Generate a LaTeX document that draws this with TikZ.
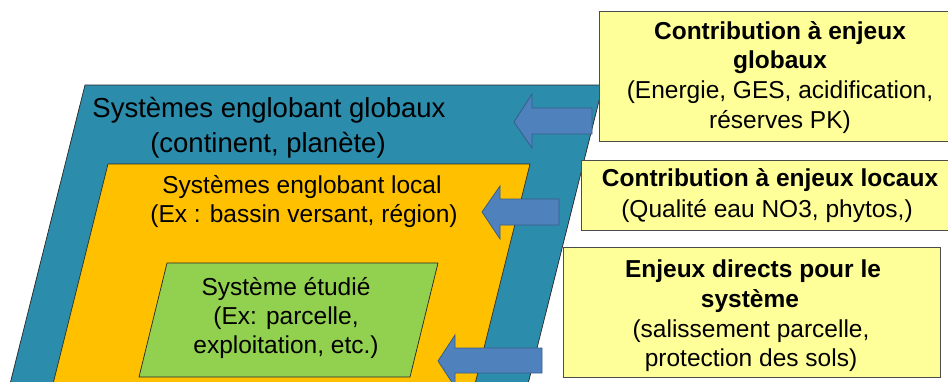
\documentclass[tikz,border=0pt]{standalone}
\usepackage{fontspec}
\setmainfont{Liberation Sans}
\definecolor{globalblue}{RGB}{43,140,172}
\definecolor{localorange}{RGB}{255,192,0}
\definecolor{sysgreen}{RGB}{146,208,80}
\definecolor{boxyellow}{RGB}{255,255,153}
\definecolor{arrowfill}{RGB}{79,129,189}
\definecolor{arrowdraw}{RGB}{56,93,138}
\tikzset{
  layer/.style={draw=black!85, line width=0.7pt},
  infobox/.style={draw=black!70, fill=boxyellow, line width=0.8pt},
  blockarrow/.style={draw=arrowdraw, fill=arrowfill, line width=0.8pt, line join=miter},
  txt/.style={anchor=base, inner sep=0pt, text=black},
  big/.style={font=\fontsize{27.5}{33}\selectfont},
  mid/.style={font=\fontsize{24.5}{29}\selectfont},
  midb/.style={font=\fontsize{24.5}{29}\selectfont\bfseries},
}
\begin{document}
\begin{tikzpicture}[x=1pt,y=-1pt]
\useasboundingbox (0,0) rectangle (948,381);
\clip (0,0) rectangle (948,381);
\fill[white] (0,0) rectangle (948,381);
% nested systems
\draw[layer, fill=globalblue] (85,85) -- (603,85) -- (524,400) -- (6,400) -- cycle;
\draw[layer, fill=localorange] (108,164) -- (530,164) -- (471,400) -- (49,400) -- cycle;
\draw[layer, fill=sysgreen] (167,263) -- (438,263) -- (410,377) -- (139,377) -- cycle;
% texts of systems
\node[txt,big] (g1) at (269,117) {Systèmes englobant globaux};
\node[txt,big] (g2) at (268,152) {(continent, planète)};
\node[txt,mid] (l1) at (302,193) {Systèmes englobant local};
\node[txt,mid] (l2) at (304,222) {(Ex : bassin versant, région)};
\node[txt,mid] (s1) at (286,295) {Système étudié};
\node[txt,mid] (s2) at (286,324) {(Ex: parcelle,};
\node[txt,mid] (s3) at (286,353) {exploitation, etc.)};
% block arrows
\draw[blockarrow] (514,122) -- (532,94) -- (532,108) -- (592,108) -- (592,134) -- (532,134) -- (532,148) -- cycle;
\draw[blockarrow] (482,212) -- (500,186) -- (500,199) -- (559,199) -- (559,225) -- (500,225) -- (500,239) -- cycle;
\draw[blockarrow] (438,361) -- (455,335) -- (455,348) -- (542,348) -- (542,373) -- (455,373) -- (455,387) -- cycle;
% yellow boxes
\draw[infobox] (599,11) rectangle (960,141);
\draw[infobox] (581,160) rectangle (960,230);
\draw[infobox] (563,247) rectangle (940,377);
\node[txt,midb] (a1) at (780,39) {Contribution à enjeux};
\node[txt,midb] (a2) at (780,68) {globaux};
\node[txt,mid]  (a3) at (780,98) {(Energie, GES, acidification,};
\node[txt,mid]  (a4) at (780,128) {réserves PK)};
\node[txt,midb] (b1) at (770,186) {Contribution à enjeux locaux};
\node[txt,mid]  (b2) at (767,217) {(Qualité eau NO3, phytos,)};
\node[txt,midb] (c1) at (753,277) {Enjeux directs pour le};
\node[txt,midb] (c2) at (750,307) {système};
\node[txt,mid]  (c3) at (751,337) {(salissement parcelle,};
\node[txt,mid]  (c4) at (751,366) {protection des sols)};
\end{tikzpicture}
\end{document}
